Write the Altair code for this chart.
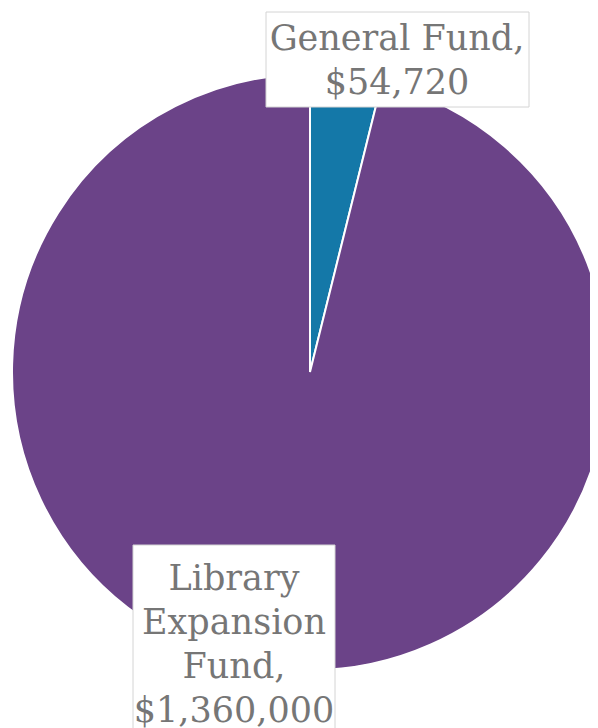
import altair as alt
import pandas as pd

# --- data ---
categories = ["General Fund", "Library Expansion Fund"]
values = [54720, 1360000]
colors = ["#1478A8", "#6B4388"]
label_lines = ["General Fund,\n$54,720", "Library\nExpansion\nFund,\n$1,360,000"]

# --- layout (pixels, view coordinates) ---
W, H = 582, 720
CX, CY, R = 302, 364, 298
label_cx = [389, 226]
label_base = [42, 582]
box_x = [258, 125]
box_x2 = [521, 327]
box_y = [4, 537]
box_y2 = [99, 740]

pie_df = pd.DataFrame({"category": categories, "value": values, "order": list(range(len(categories)))})
lab_df = pd.DataFrame({
    "category": categories,
    "label": label_lines,
    "lx": label_cx, "ly": label_base,
    "bx": box_x, "bx2": box_x2, "by": box_y, "by2": box_y2,
})

pie = alt.Chart(pie_df).mark_arc(radius=R, stroke="white", strokeWidth=2, clip=True).encode(
    theta=alt.Theta("value:Q", stack=True),
    order=alt.Order("order:Q"),
    color=alt.Color("category:N", scale=alt.Scale(domain=categories, range=colors), legend=None),
    x=alt.value(CX),
    y=alt.value(CY),
)

xs = alt.Scale(domain=[0, W], range=[0, W])
ys = alt.Scale(domain=[0, H], range=[0, H])

boxes = alt.Chart(lab_df).mark_rect(fill="white", stroke="#D4D4D4", strokeWidth=1, clip=True).encode(
    x=alt.X("bx:Q", scale=xs, axis=None),
    x2="bx2:Q",
    y=alt.Y("by:Q", scale=ys, axis=None),
    y2="by2:Q",
)

texts = alt.Chart(lab_df).mark_text(
    font="DejaVu Serif", fontSize=35, color="#767676", align="center",
    baseline="alphabetic", lineBreak="\n", lineHeight=44,
).encode(
    x=alt.X("lx:Q", scale=xs, axis=None),
    y=alt.Y("ly:Q", scale=ys, axis=None),
    text="label:N",
)

chart = alt.layer(pie, boxes, texts).properties(
    width=W, height=H, padding=0, autosize=alt.AutoSizeParams(type="none")
).configure_view(stroke=None)

chart.save("out.html", embed_options={"renderer": "svg", "actions": False})
